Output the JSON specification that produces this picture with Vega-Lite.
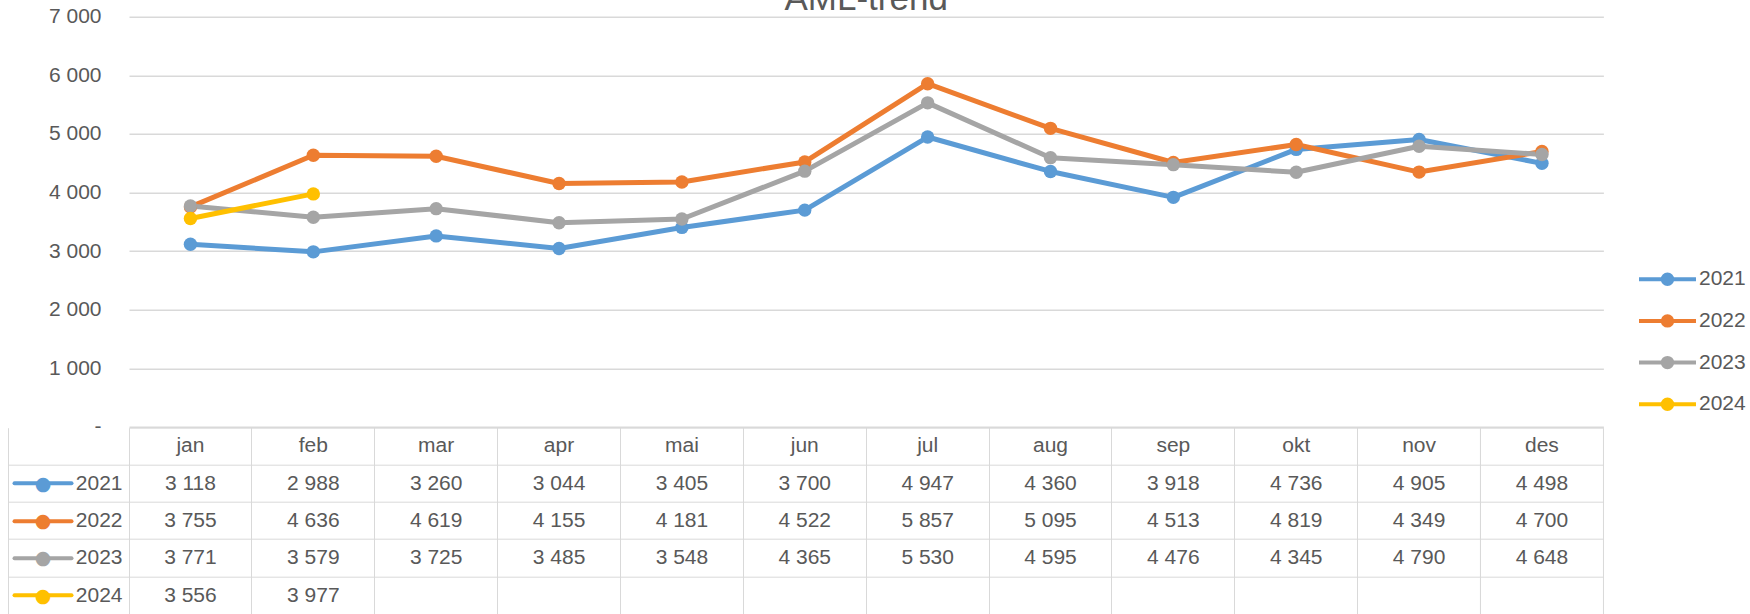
{
  "$schema": "https://vega.github.io/schema/vega-lite/v6.json",
  "padding": {"top": -19.3, "left": 7, "right": 0, "bottom": 0},
  "background": "white",
  "spacing": 0,
  "bounds": "flush",
  "config": {
    "view": {"stroke": null},
    "font": "Liberation Sans",
    "locale": {"number": {"decimal": ",", "thousands": " ", "grouping": [3], "currency": ["", ""]}}
  },
  "datasets": {
    "aml": [
      {"month": "jan", "year": "2021", "value": 3118},
      {"month": "feb", "year": "2021", "value": 2988},
      {"month": "mar", "year": "2021", "value": 3260},
      {"month": "apr", "year": "2021", "value": 3044},
      {"month": "mai", "year": "2021", "value": 3405},
      {"month": "jun", "year": "2021", "value": 3700},
      {"month": "jul", "year": "2021", "value": 4947},
      {"month": "aug", "year": "2021", "value": 4360},
      {"month": "sep", "year": "2021", "value": 3918},
      {"month": "okt", "year": "2021", "value": 4736},
      {"month": "nov", "year": "2021", "value": 4905},
      {"month": "des", "year": "2021", "value": 4498},
      {"month": "jan", "year": "2022", "value": 3755},
      {"month": "feb", "year": "2022", "value": 4636},
      {"month": "mar", "year": "2022", "value": 4619},
      {"month": "apr", "year": "2022", "value": 4155},
      {"month": "mai", "year": "2022", "value": 4181},
      {"month": "jun", "year": "2022", "value": 4522},
      {"month": "jul", "year": "2022", "value": 5857},
      {"month": "aug", "year": "2022", "value": 5095},
      {"month": "sep", "year": "2022", "value": 4513},
      {"month": "okt", "year": "2022", "value": 4819},
      {"month": "nov", "year": "2022", "value": 4349},
      {"month": "des", "year": "2022", "value": 4700},
      {"month": "jan", "year": "2023", "value": 3771},
      {"month": "feb", "year": "2023", "value": 3579},
      {"month": "mar", "year": "2023", "value": 3725},
      {"month": "apr", "year": "2023", "value": 3485},
      {"month": "mai", "year": "2023", "value": 3548},
      {"month": "jun", "year": "2023", "value": 4365},
      {"month": "jul", "year": "2023", "value": 5530},
      {"month": "aug", "year": "2023", "value": 4595},
      {"month": "sep", "year": "2023", "value": 4476},
      {"month": "okt", "year": "2023", "value": 4345},
      {"month": "nov", "year": "2023", "value": 4790},
      {"month": "des", "year": "2023", "value": 4648},
      {"month": "jan", "year": "2024", "value": 3556},
      {"month": "feb", "year": "2024", "value": 3977}
    ]
  },
  "vconcat": [
    {
      "width": 1474.4,
      "height": 410.3,
      "title": {"text": "AML-trend", "fontSize": 35, "fontWeight": "normal", "color": "#595959", "anchor": "middle", "frame": "group", "offset": -38.95, "baseline": "alphabetic", "font": "Liberation Sans"},
      "data": {"name": "aml"},
      "mark": {"type": "line", "strokeWidth": 5, "strokeCap": "round", "strokeJoin": "round", "point": {"filled": true, "size": 180, "opacity": 1}},
      "encoding": {
        "x": {"field": "month", "type": "ordinal", "sort": ["jan","feb","mar","apr","mai","jun","jul","aug","sep","okt","nov","des"], "scale": {"type": "point", "padding": 0.5}, "axis": null},
        "y": {"field": "value", "type": "quantitative", "scale": {"domain": [0, 7000]},
          "axis": {"values": [0,1000,2000,3000,4000,5000,6000,7000], "format": ",d", "labelExpr": "datum.value === 0 ? '-\u2007' : datum.label", "grid": true, "gridColor": "#d9d9d9", "gridWidth": 1.5, "domain": false, "ticks": false, "labelPadding": 28, "labelFontSize": 21, "labelColor": "#595959", "labelBaseline": "middle", "title": null}},
        "color": {"field": "year", "type": "nominal",
          "scale": {"domain": ["2021","2022","2023","2024"], "range": ["#5B9BD5","#ED7D31","#A5A5A5","#FFC000"]},
          "legend": {"orient": "none", "legendX": 1522, "legendY": 246, "title": null,
            "symbolType": "M-2,0H2M-0.33,0A0.33,0.33 0 1,1 0.33,0A0.33,0.33 0 1,1 -0.33,0M-0.1,0A0.1,0.1 0 1,1 0.1,0A0.1,0.1 0 1,1 -0.1,0",
            "symbolSize": 812, "symbolStrokeWidth": 4, "labelFontSize": 21, "labelColor": "#595959", "labelOffset": 15, "rowPadding": 11.7}}
      }
    },
    {
      "width": 1474.4,
      "height": 186.5,
      "data": {"name": "aml"},
      "layer": [
        {
          "mark": {"type": "text", "fontSize": 21, "color": "#595959", "baseline": "middle", "align": "center"},
          "encoding": {
            "x": {"field": "month", "type": "ordinal", "sort": ["jan","feb","mar","apr","mai","jun","jul","aug","sep","okt","nov","des"], "scale": {"type": "band", "paddingInner": 0, "paddingOuter": 0},
              "axis": {"orient": "top", "grid": true, "bandPosition": 0, "gridColor": "#d9d9d9", "ticks": false, "labels": false, "domain": false, "title": null}},
            "y": {"field": "year", "type": "nominal", "scale": {"type": "band", "domain": ["m","2021","2022","2023","2024"], "paddingInner": 0, "paddingOuter": 0},
              "axis": {"orient": "left", "offset": 121, "bandPosition": 0, "domain": true, "domainColor": "#d9d9d9", "ticks": true, "tickSize": -121,
                "tickColor": {"expr": "datum.value === 'm' ? 'transparent' : '#d9d9d9'"},
                "labels": true, "labelExpr": "datum.value === 'm' ? '' : datum.value", "labelPadding": 7, "labelAlign": "right", "labelBaseline": "middle", "labelFontSize": 21, "labelColor": "#595959",
                "grid": true, "gridColor": "#d9d9d9", "title": null}},
            "text": {"field": "value", "type": "quantitative", "format": ",d"}
          }
        },
        {
          "transform": [{"filter": "datum.year === '2021'"}],
          "mark": {"type": "text", "fontSize": 21, "color": "#595959", "baseline": "middle", "align": "center"},
          "encoding": {
            "x": {"field": "month", "type": "ordinal", "sort": ["jan","feb","mar","apr","mai","jun","jul","aug","sep","okt","nov","des"],
              "axis": {"orient": "bottom", "grid": true, "bandPosition": 1, "gridColor": "#d9d9d9", "ticks": false, "labels": false, "domain": false, "title": null}},
            "y": {"datum": "m", "type": "nominal",
              "axis": {"orient": "left", "offset": 58, "bandPosition": 0.5, "domain": false, "grid": false, "ticks": true, "tickSize": 57, "tickWidth": 4, "tickCap": "round",
                "tickColor": {"expr": "datum.value === '2021' ? '#5B9BD5' : datum.value === '2022' ? '#ED7D31' : datum.value === '2023' ? '#A5A5A5' : datum.value === '2024' ? '#FFC000' : 'transparent'"},
                "labelColor": {"expr": "datum.value === '2021' ? '#5B9BD5' : datum.value === '2022' ? '#ED7D31' : datum.value === '2023' ? '#A5A5A5' : datum.value === '2024' ? '#FFC000' : 'transparent'"},
                "labels": true, "labelExpr": "datum.value === 'm' ? '' : '●'", "labelPadding": -28.5, "labelAlign": "center", "labelBaseline": "middle", "labelFontSize": 19, "labelFont": "DejaVu Sans", "title": null}},
            "text": {"field": "month", "type": "nominal"}
          }
        }
      ],
      "resolve": {"axis": {"x": "independent", "y": "independent"}}
    }
  ]
}
